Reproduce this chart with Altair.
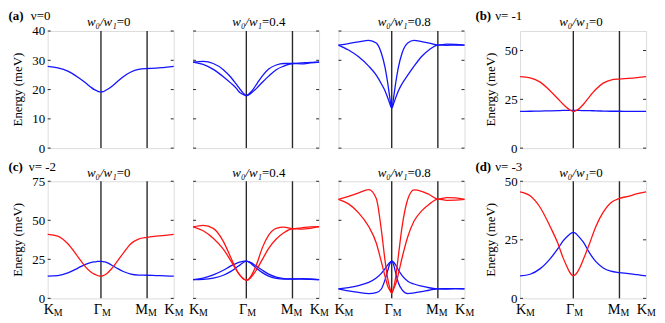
import altair as alt
import pandas as pd

# ---------------- data ----------------
# path coordinate: K_M = 0, Gamma_M = 0.4226, M_M = 0.7887, K_M = 1
T = [0, 0.08, 0.16, 0.24, 0.30, 0.34, 0.37, 0.39, 0.405, 0.4226, 0.44, 0.455,
     0.475, 0.505, 0.55, 0.60, 0.66, 0.72, 0.7887, 0.86, 0.93, 1.0]
HS_T = [0.0, 0.4226, 0.7887, 1.0]
HS_MAIN = ["K", "Γ", "M", "K"]
HS_SUB = ["M", "M", "M", "M"]

A1_BLUE = [27.9, 27.4, 26.3, 24.2, 22.3, 20.9, 20.0, 19.6, 19.3, 19.2, 19.3, 19.6,
           20.1, 21.0, 22.6, 24.4, 26.0, 26.9, 27.2, 27.3, 27.6, 27.9]
A2_BLUE1 = [29.4, 29.6, 28.9, 26.8, 24.2, 22.0, 20.3, 19.2, 18.5, 17.9, 18.4, 19.0,
            20.0, 21.9, 24.7, 27.0, 28.4, 28.9, 28.9, 29.1, 29.3, 29.4]
A2_BLUE2 = [29.4, 28.6, 26.9, 24.4, 22.2, 20.6, 19.0, 18.5, 18.2, 17.9, 18.2, 18.6,
            19.3, 20.5, 22.5, 24.6, 26.8, 28.0, 28.9, 28.8, 29.1, 29.4]
A3_BLUE1 = [35.2, 35.7, 36.3, 36.8, 35.9, 32.5, 27.5, 22.5, 18.0, 13.7, 18.0, 22.5,
            27.5, 32.5, 35.9, 36.8, 36.4, 35.9, 35.2, 35.5, 35.4, 35.2]
A3_BLUE2 = [35.2, 33.5, 31.2, 28.0, 24.9, 22.0, 19.5, 17.3, 15.5, 13.7, 15.5, 17.3,
            19.5, 22.0, 24.9, 28.0, 31.3, 33.6, 35.2, 35.1, 35.2, 35.2]
B_RED = [36.6, 36.0, 33.8, 29.3, 25.3, 22.6, 20.8, 19.8, 19.2, 18.8, 19.1, 19.6,
         20.6, 22.6, 26.3, 30.0, 33.3, 34.9, 35.4, 35.7, 36.1, 36.6]
B_BLUE = [18.8, 18.9, 19.0, 19.1, 19.2, 19.3, 19.3, 19.3, 19.3, 19.3, 19.3, 19.3,
          19.3, 19.2, 19.2, 19.1, 19.0, 18.9, 18.9, 18.8, 18.8, 18.8]
C1_RED = [41.0, 39.9, 35.0, 26.6, 20.2, 17.0, 15.5, 14.8, 14.4, 14.2, 14.5, 15.1,
          16.3, 18.8, 23.5, 29.0, 35.0, 38.0, 39.1, 39.8, 40.4, 41.0]
C1_BLUE = [14.2, 14.6, 16.3, 19.4, 21.8, 22.9, 23.4, 23.6, 23.7, 23.7, 23.6, 23.3,
           22.7, 21.4, 19.3, 17.2, 15.5, 14.9, 14.8, 14.6, 14.4, 14.2]
C2_RED1 = [45.8, 46.8, 44.8, 36.5, 26.0, 19.0, 15.0, 13.2, 12.2, 11.6, 12.3, 13.7,
           16.5, 22.0, 32.5, 40.5, 44.8, 45.6, 44.6, 45.2, 45.8, 45.9]
C2_RED2 = [45.8, 43.3, 38.5, 31.5, 24.0, 18.5, 15.0, 13.2, 12.2, 11.6, 12.0, 13.0,
           15.0, 18.5, 25.0, 32.0, 38.0, 42.0, 44.6, 44.3, 44.8, 45.9]
C2_BLUE1 = [12.0, 13.0, 15.0, 18.0, 20.8, 22.3, 23.2, 23.6, 23.8, 23.8, 23.6, 23.1,
            22.2, 20.5, 18.0, 15.5, 13.6, 12.7, 12.4, 12.3, 12.2, 12.0]
C2_BLUE2 = [12.0, 12.2, 13.0, 14.8, 17.3, 19.5, 21.3, 22.5, 23.3, 23.8, 23.4, 22.6,
            21.2, 19.2, 16.5, 14.2, 12.8, 12.3, 12.4, 12.6, 12.4, 12.0]
C3_RED1 = [63.4, 65.3, 67.6, 69.6, 64.0, 44.0, 24.0, 13.0, 7.5, 3.4, 7.5, 14.0,
           27.0, 46.0, 63.5, 69.5, 68.6, 66.5, 63.6, 64.5, 64.4, 63.4]
C3_RED2 = [63.4, 60.5, 54.8, 46.0, 35.5, 23.5, 14.0, 8.0, 5.5, 3.4, 6.5, 9.5,
           15.5, 26.0, 39.5, 49.5, 56.0, 60.3, 63.6, 62.8, 62.9, 63.4]
C3_BLUE1 = [6.1, 6.9, 8.2, 10.2, 13.0, 16.0, 19.0, 21.3, 22.8, 23.8, 23.0, 21.2,
            18.3, 14.5, 11.0, 9.2, 7.8, 6.8, 6.1, 6.2, 6.3, 6.1]
C3_BLUE2 = [6.1, 4.8, 3.8, 3.0, 3.6, 6.0, 12.0, 17.5, 21.5, 23.8, 21.0, 16.0,
            10.0, 5.5, 3.1, 3.5, 4.3, 5.2, 6.1, 6.0, 6.2, 6.1]
D_RED = [45.5, 43.8, 38.8, 30.5, 23.5, 17.5, 13.8, 11.5, 10.3, 9.7, 10.2, 11.2,
         13.2, 17.0, 23.2, 30.5, 36.8, 40.8, 42.7, 43.6, 44.7, 45.5]
D_BLUE = [9.6, 10.3, 12.7, 17.0, 21.2, 24.4, 26.2, 27.2, 27.8, 28.2, 27.8, 27.0,
          25.8, 23.8, 19.5, 15.8, 13.0, 11.6, 11.0, 10.6, 10.1, 9.6]

TICKS_A = [0, 10, 20, 30, 40]
TICKS_B = [0, 25, 50]
TICKS_C = [0, 25, 50, 75]
TICKS_D = [0, 25, 50]
RATIO_TEXT = ["=0", "=0.4", "=0.8"]
GROUP_TAG = ["(a)", "(b)", "(c)", "(d)"]
GROUP_NU = ["ν=0", "ν= -1", "ν= -2", "ν= -3"]
Y_TITLE = "Energy (meV)"
W_TEXT = "w₀/w₁"

# ---------------- styling ----------------
W = 127
H = 118
FONT = "Liberation Serif, Times New Roman, serif"
BLUE = "#1414ff"
RED = "#ff1414"
DARK = "#2a2a2a"


def one(s):
    return pd.DataFrame({"s": [s]})


def make_df(curves):
    rows = []
    for i, (vals, col) in enumerate(curves):
        for t, e in zip(T, vals):
            rows.append({"t": t, "E": e, "band": i, "c": col})
    return pd.DataFrame(rows)


def panel(curves, ydom, yticks, ratio, first_col, bottom_row, tag=None, nu=None,
          title_y=-5.0, tag_y=-21.3, tag_x=-39.5, nu_x=-17.0):
    xsc = alt.Scale(domain=[0, 1], nice=False, zero=False)
    ysc = alt.Scale(domain=ydom, nice=False, zero=False)
    if first_col:
        yaxis = alt.Axis(values=yticks, title=None, tickSize=0, domain=False, grid=False,
                         labelFont=FONT, labelFontSize=13, labelColor="black",
                         labelPadding=3, labelOverlap=False)
    else:
        yaxis = None

    layers = []
    vl = alt.Chart(pd.DataFrame({"t": HS_T[1:3]})).mark_rule(
        color=DARK, strokeWidth=1.4).encode(x=alt.X("t:Q", scale=xsc, axis=None))
    layers.append(vl)

    lines = alt.Chart(make_df(curves)).mark_line(
        interpolate="monotone", strokeWidth=1.3).encode(
        x=alt.X("t:Q", scale=xsc, axis=None),
        y=alt.Y("E:Q", scale=ysc, axis=yaxis),
        color=alt.Color("c:N", scale=None),
        detail="band:N")
    layers.append(lines)

    tdf = pd.DataFrame({"v": yticks})
    layers.append(alt.Chart(tdf).mark_rule(color=DARK, strokeWidth=1).encode(
        y=alt.Y("v:Q", scale=ysc, axis=yaxis), x=alt.value(0), x2=alt.value(3)))
    layers.append(alt.Chart(tdf).mark_rule(color=DARK, strokeWidth=1).encode(
        y=alt.Y("v:Q", scale=ysc, axis=yaxis), x=alt.value(W - 3), x2=alt.value(W)))

    # panel title: italic part + upright part
    jx = W / 2 + 6
    layers.append(alt.Chart(one(W_TEXT)).mark_text(
        font=FONT, fontSize=13, fontStyle="italic", align="right", baseline="alphabetic",
        color="black").encode(text="s:N", x=alt.value(jx), y=alt.value(title_y)))
    layers.append(alt.Chart(one(ratio)).mark_text(
        font=FONT, fontSize=13, align="left", baseline="alphabetic",
        color="black").encode(text="s:N", x=alt.value(jx), y=alt.value(title_y)))

    if first_col:
        layers.append(alt.Chart(one(Y_TITLE)).mark_text(
            font=FONT, fontSize=13, angle=270, align="center", baseline="middle",
            color="black").encode(text="s:N", x=alt.value(-29.5), y=alt.value(H / 2)))
    if tag is not None:
        layers.append(alt.Chart(one(tag)).mark_text(
            font=FONT, fontSize=13, fontWeight="bold", align="left", baseline="top",
            color="black").encode(text="s:N", x=alt.value(tag_x), y=alt.value(tag_y)))
        layers.append(alt.Chart(one(nu)).mark_text(
            font=FONT, fontSize=13, align="left", baseline="top",
            color="black").encode(text="s:N", x=alt.value(nu_x), y=alt.value(tag_y)))

    if bottom_row:
        first = pd.DataFrame({"t": HS_T[:1], "m": HS_MAIN[:1], "sub": HS_SUB[:1]})
        rest = pd.DataFrame({"t": HS_T[1:], "m": HS_MAIN[1:], "sub": HS_SUB[1:]})
        xe = alt.X("t:Q", scale=xsc, axis=None)
        layers.append(alt.Chart(first).mark_text(
            font=FONT, fontSize=14.5, align="left", baseline="alphabetic", dx=-4,
            color="black").encode(x=xe, y=alt.value(H + 16), text="m:N"))
        layers.append(alt.Chart(first).mark_text(
            font=FONT, fontSize=10, align="left", baseline="alphabetic", dx=6,
            color="black").encode(x=xe, y=alt.value(H + 18), text="sub:N"))
        layers.append(alt.Chart(rest).mark_text(
            font=FONT, fontSize=14.5, align="right", baseline="alphabetic", dx=1,
            color="black").encode(x=xe, y=alt.value(H + 16), text="m:N"))
        layers.append(alt.Chart(rest).mark_text(
            font=FONT, fontSize=10, align="left", baseline="alphabetic", dx=1,
            color="black").encode(x=xe, y=alt.value(H + 18), text="sub:N"))

    return alt.layer(*layers).properties(width=W, height=H)


def spacer():
    return alt.Chart(one("")).mark_text().encode(text="s:N").properties(
        width=16.5, height=H, view=alt.ViewBackground(stroke="transparent"))


pa1 = panel([(A1_BLUE, BLUE)], [0, 40], TICKS_A, RATIO_TEXT[0], True, False,
            GROUP_TAG[0], GROUP_NU[0])
pa2 = panel([(A2_BLUE1, BLUE), (A2_BLUE2, BLUE)], [0, 40], TICKS_A, RATIO_TEXT[1], False, False)
pa3 = panel([(A3_BLUE1, BLUE), (A3_BLUE2, BLUE)], [0, 40], TICKS_A, RATIO_TEXT[2], False, False)
pb = panel([(B_BLUE, BLUE), (B_RED, RED)], [0, 60], TICKS_B, RATIO_TEXT[0], True, False,
           GROUP_TAG[1], GROUP_NU[1], tag_x=-45, nu_x=-25)

pc1 = panel([(C1_BLUE, BLUE), (C1_RED, RED)], [0, 75], TICKS_C, RATIO_TEXT[0], True, True,
            GROUP_TAG[2], GROUP_NU[2], title_y=-4.5, tag_y=-20.5, nu_x=-19)
pc2 = panel([(C2_BLUE1, BLUE), (C2_BLUE2, BLUE), (C2_RED1, RED), (C2_RED2, RED)],
            [0, 75], TICKS_C, RATIO_TEXT[1], False, True, title_y=-4.5)
pc3 = panel([(C3_BLUE1, BLUE), (C3_BLUE2, BLUE), (C3_RED1, RED), (C3_RED2, RED)],
            [0, 75], TICKS_C, RATIO_TEXT[2], False, True, title_y=-4.5)
pd_ = panel([(D_BLUE, BLUE), (D_RED, RED)], [0, 50], TICKS_D, RATIO_TEXT[0], True, True,
            GROUP_TAG[3], GROUP_NU[3], title_y=-4.5, tag_y=-20.5, tag_x=-45, nu_x=-25)

chart = alt.concat(
    pa1, pa2, pa3, spacer(), pb,
    pc1, pc2, pc3, spacer(), pd_,
    columns=5, spacing={"row": 33.4, "column": 19.5}, bounds="flush",
).properties(
    padding=0
).configure_view(stroke=DARK, strokeWidth=1).configure(background="white")

chart.save("out.html", embed_options={"renderer": "svg", "actions": False})
